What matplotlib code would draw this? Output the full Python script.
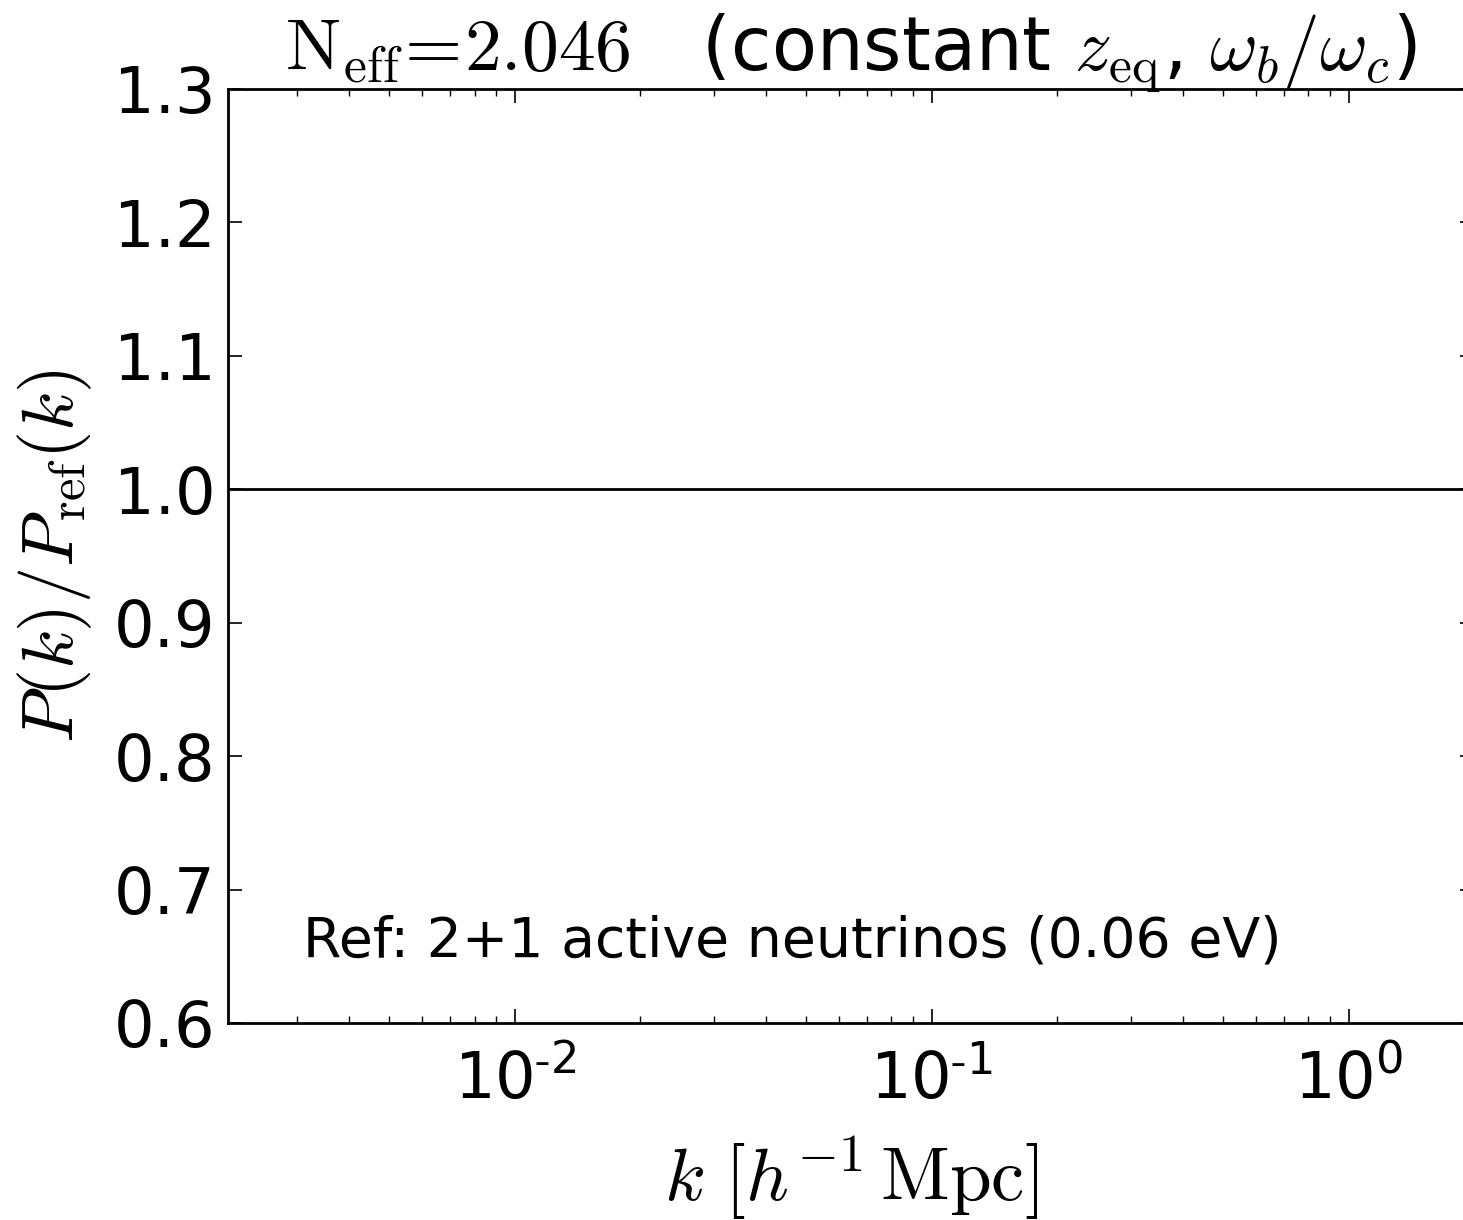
import matplotlib
matplotlib.use("Agg")
import matplotlib.pyplot as plt
import numpy as np
from matplotlib.ticker import LogLocator, FuncFormatter

# ratio of the power spectrum to the reference model
k_vals = [1e-3, 1e1]
ratio_vals = [1.0, 1.0]

k_lim = (2.05e-3, 2.0)
ratio_lim = (0.6, 1.3)
ratio_ticks = [0.6, 0.7, 0.8, 0.9, 1.0, 1.1, 1.2, 1.3]

n_eff = "2.046"
ref_label = "Ref: 2+1 active neutrinos (0.06 eV)"

plt.rcParams["mathtext.fontset"] = "cm"
plt.rcParams["font.family"] = "DejaVu Sans"
plt.rcParams["axes.unicode_minus"] = False


def decade_label(x, pos):
    e = int(np.round(np.log10(x)))
    sign = r"\text{-}" if e < 0 else ""
    return r"$\mathdefault{10^{%s%d}}$" % (sign, abs(e))


fig = plt.figure(figsize=(14.63, 12.2), dpi=100)
ax = fig.add_axes([0.1558, 0.1615, 0.852, 0.7656])

ax.plot(k_vals, ratio_vals, color="k", lw=2.0)
ax.set_xscale("log")
ax.set_xlim(*k_lim)
ax.set_ylim(*ratio_lim)
ax.set_yticks(ratio_ticks)
ax.set_yticklabels([f"{v:.1f}" for v in ratio_ticks])
ax.xaxis.set_minor_locator(LogLocator(base=10, subs=range(2, 10), numticks=20))
ax.xaxis.set_major_formatter(FuncFormatter(decade_label))

ax.tick_params(which="both", direction="in", top=True, right=True, labelsize=46)
ax.tick_params(which="major", length=10, width=1.2)
ax.tick_params(which="minor", length=5, width=1.0)
ax.tick_params(axis="y", which="major", pad=9)
ax.tick_params(axis="x", which="major", pad=19)
for sp in ax.spines.values():
    sp.set_linewidth(2.0)

ax.set_xlabel(r"$k\ [h^{-1}\,{\rm Mpc}]$", fontsize=54, labelpad=16)
ax.set_ylabel(r"$P(k)/P_{\rm ref}(k)$", fontsize=52, labelpad=14)
# fixed y keeps the subscript sitting right on the top spine
ax.set_title(r"$\rm N_{eff}\!=\!" + n_eff + r"$   (constant $z_{\rm eq}$, $\omega_b/\omega_c$)",
             fontsize=53, y=1.0, pad=13)

ax.text(3.1e-3, 0.65, ref_label, fontsize=39.8)

fig.savefig("out.png", dpi=100)
